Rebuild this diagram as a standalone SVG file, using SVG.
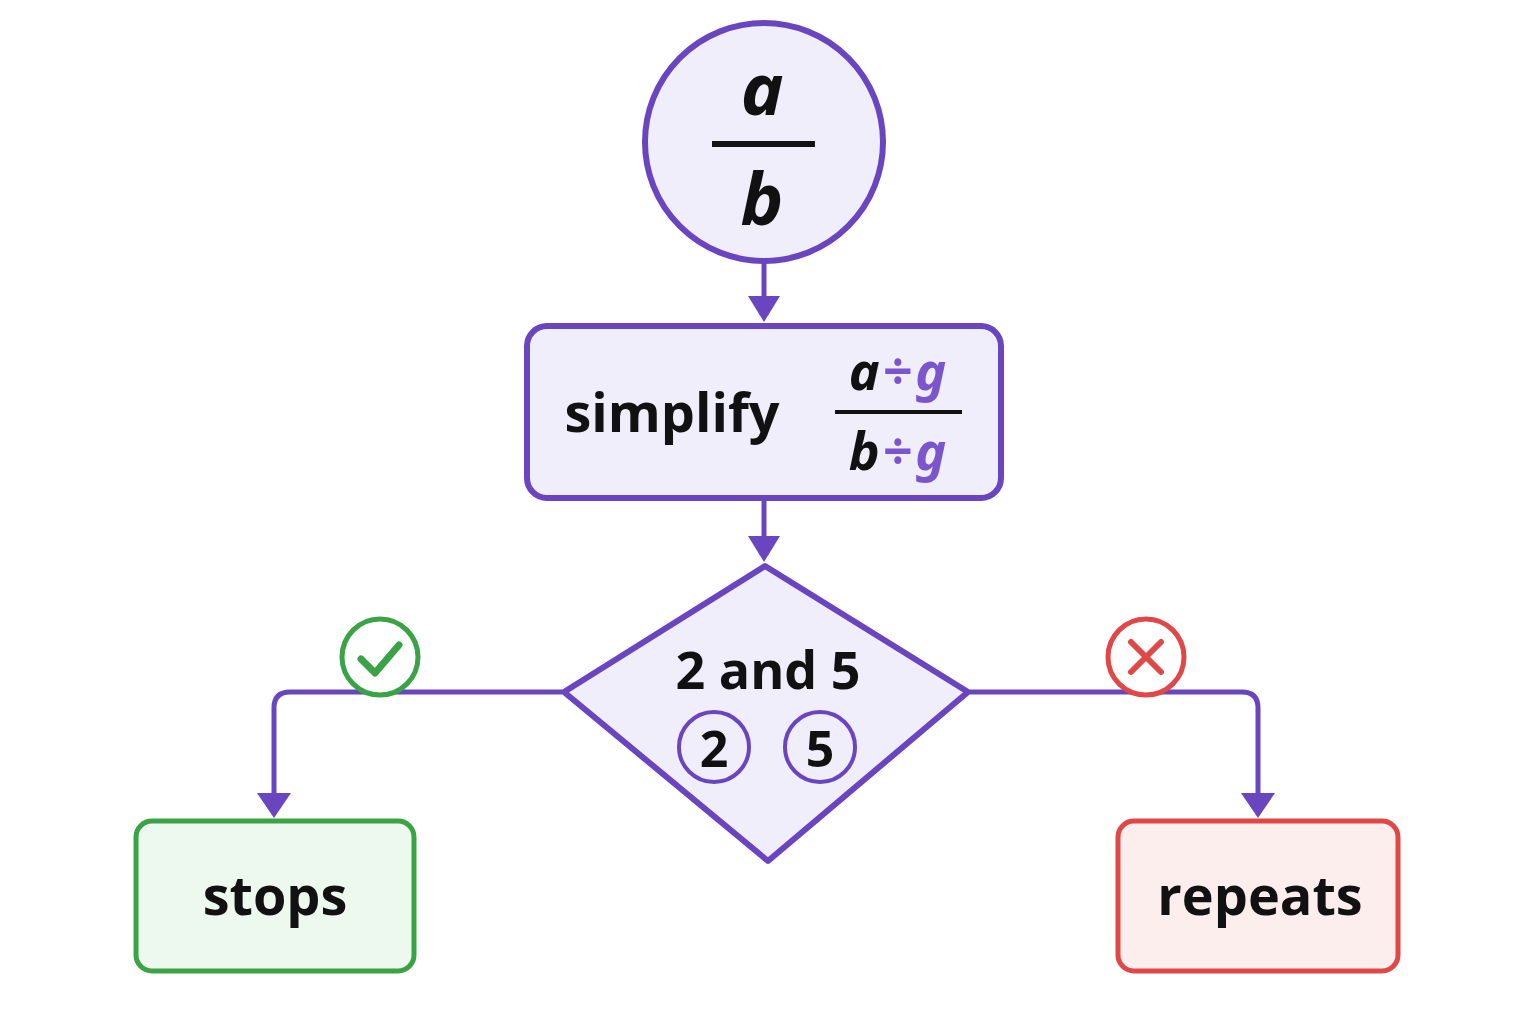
<svg xmlns="http://www.w3.org/2000/svg" width="1536" height="1024" viewBox="0 0 1536 1024">
<style>
.t{font-family:"Open Sans","Noto Sans",sans-serif;font-weight:bold;fill:#111}
.i{font-family:"Noto Sans","Open Sans",sans-serif;font-weight:bold;font-style:italic}
.p{fill:#f1eefb;stroke:#6a45c0;stroke-width:6}
.c{fill:none;stroke:#6a45c0;stroke-width:5;stroke-linejoin:round}
</style>
<rect width="1536" height="1024" fill="#fff"/>
<g id="connectors">
<line class="c" x1="764" y1="262" x2="764" y2="300"/><path d="M748,296 L780,296 L764,322 Z" fill="#6a45c0"/>
<line class="c" x1="764" y1="500" x2="764" y2="540"/><path d="M748,536 L780,536 L764,562 Z" fill="#6a45c0"/>
<path class="c" d="M562,692 H290 Q274,692 274,708 V796"/><path d="M257,793 L291,793 L274,818 Z" fill="#6a45c0"/>
<path class="c" d="M970,692 H1242 Q1258,692 1258,708 V796"/><path d="M1241,793 L1275,793 L1258,818 Z" fill="#6a45c0"/>
</g>
<g id="fraction">
<circle class="p" cx="764" cy="142" r="119"/>
<text class="i" x="762" y="115" font-size="72" text-anchor="middle" fill="#111">a</text>
<line x1="712" y1="144" x2="815" y2="144" stroke="#111" stroke-width="6"/>
<text class="i" x="762" y="225" font-size="72" text-anchor="middle" fill="#111">b</text>
</g>
<g id="simplify">
<rect class="p" x="527" y="326" width="474" height="172" rx="20"/>
<text class="t" x="672" y="432" font-size="54" text-anchor="middle">simplify</text>
<text class="i" x="899" y="390" font-size="52" text-anchor="middle" letter-spacing="3"><tspan fill="#111">a</tspan><tspan fill="#7b55cc">÷g</tspan></text>
<line x1="835" y1="412" x2="962" y2="412" stroke="#111" stroke-width="4"/>
<text class="i" x="899" y="470" font-size="52" text-anchor="middle" letter-spacing="3"><tspan fill="#111">b</tspan><tspan fill="#7b55cc">÷g</tspan></text>
</g>
<g id="decision">
<path class="p" d="M765,566 L968,692 L768,861 L564,692 Z" stroke-width="5" stroke-linejoin="round"/>
<text class="t" x="768" y="689" font-size="52" text-anchor="middle">2 and 5</text>
<circle cx="714" cy="747" r="35" fill="none" stroke="#6a45c0" stroke-width="4"/>
<text class="t" x="714" y="767" font-size="50" text-anchor="middle">2</text>
<circle cx="820" cy="747" r="35" fill="none" stroke="#6a45c0" stroke-width="4"/>
<text class="t" x="820" y="767" font-size="50" text-anchor="middle">5</text>
</g>
<g id="yes">
<circle cx="380" cy="657" r="38" fill="#fff" stroke="#3aa346" stroke-width="5"/>
<path d="M361,659 L375,673 L399,645" fill="none" stroke="#3aa346" stroke-width="7" stroke-linecap="round" stroke-linejoin="round"/>
</g>
<g id="no">
<circle cx="1146" cy="657" r="38" fill="#fff" stroke="#e04848" stroke-width="5"/>
<path d="M1131,642 L1161,672 M1161,642 L1131,672" stroke="#e04848" stroke-width="6" stroke-linecap="round"/>
</g>
<g id="stops">
<rect x="136" y="821" width="278" height="150" rx="16" fill="#edf8ee" stroke="#3aa346" stroke-width="5"/>
<text class="t" x="275" y="915" font-size="54" text-anchor="middle">stops</text>
</g>
<g id="repeats">
<rect x="1118" y="821" width="280" height="150" rx="16" fill="#fdeeee" stroke="#e04848" stroke-width="5"/>
<text class="t" x="1260" y="915" font-size="54" text-anchor="middle">repeats</text>
</g>
</svg>
